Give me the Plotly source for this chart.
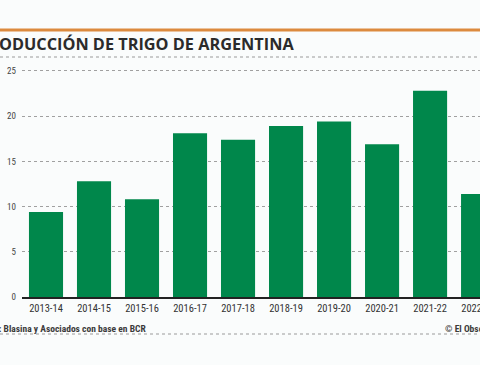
import plotly.graph_objects as go

categories = ["2013-14", "2014-15", "2015-16", "2016-17", "2017-18",
              "2018-19", "2019-20", "2020-21", "2021-22", "2022-23"]
production = [9.4, 12.8, 10.8, 18.1, 17.4, 18.9, 19.4, 16.9, 22.8, 11.4]
y_ticks = [0, 5, 10, 15, 20, 25]

W, H = 480, 365
L, R, T, B = 22, 0, 66, 68
NARROW = "Liberation Sans Narrow, Roboto Condensed, Arial Narrow, Open Sans"

def px_x(x):
    return (x - L) / (W - L - R)

def px_y(y):
    return (H - B - y) / (H - T - B)

fig = go.Figure()
fig.add_trace(go.Bar(
    x=categories, y=production,
    marker=dict(color="#00874b", line=dict(width=0)),
    width=0.71,
))

shapes = [
    dict(type="rect", xref="paper", yref="paper",
         x0=px_x(0), x1=px_x(W), y0=px_y(31.5), y1=px_y(28.5),
         fillcolor="#dc8a3e", line=dict(width=0), layer="above"),
    dict(type="line", xref="paper", yref="paper",
         x0=px_x(0), x1=px_x(W), y0=px_y(57), y1=px_y(57),
         line=dict(color="#9a9a9a", width=1, dash="dot")),
    dict(type="line", xref="paper", yref="paper",
         x0=px_x(0), x1=px_x(W), y0=px_y(334), y1=px_y(334),
         line=dict(color="#9a9a9a", width=1, dash="dot")),
]

annotations = [
    dict(text="<b>PRODUCCIÓN DE TRIGO DE ARGENTINA</b>", xref="paper", yref="paper",
         x=px_x(296), y=px_y(44), xanchor="right", yanchor="middle", showarrow=False,
         font=dict(family="Open Sans", size=16.3, color="#2b2b2b")),
    dict(text="<b>Fuente: Blasina y Asociados con base en BCR</b>", xref="paper", yref="paper",
         x=px_x(148), y=px_y(328), xanchor="right", yanchor="middle", showarrow=False,
         font=dict(family=NARROW, size=9.5, color="#3a3a3a")),
    dict(text="<b>© El Observador</b>", xref="paper", yref="paper",
         x=px_x(443), y=px_y(328), xanchor="left", yanchor="middle", showarrow=False,
         font=dict(family=NARROW, size=9.5, color="#3a3a3a")),
]

fig.update_layout(
    width=W, height=H,
    margin=dict(l=L, r=R, t=T, b=B, pad=0, autoexpand=False),
    paper_bgcolor="#fafcfc", plot_bgcolor="#fafcfc",
    showlegend=False,
    shapes=shapes, annotations=annotations,
    xaxis=dict(
        range=[-0.5, 9.04], showgrid=False, zeroline=False, automargin=False,
        showline=True, linecolor="#222222", linewidth=2,
        ticks="", tickfont=dict(family=NARROW, size=10.5, color="#333333"),
        fixedrange=True,
    ),
    yaxis=dict(
        range=[0, 25.55], tickvals=y_ticks, ticktext=[str(v) for v in y_ticks],
        showgrid=True, gridcolor="#a0a0a0", griddash="dot", gridwidth=1,
        zeroline=False, showline=False, ticks="", automargin=False,
        tickfont=dict(family=NARROW, size=9, color="#444444"),
        ticklabelstandoff=5,
    ),
)

fig.write_html(
    "out.html",
    config={"displayModeBar": False},
    post_script="document.body.style.margin='0';document.body.style.overflow='hidden';"
                "document.documentElement.style.overflow='hidden';",
)
